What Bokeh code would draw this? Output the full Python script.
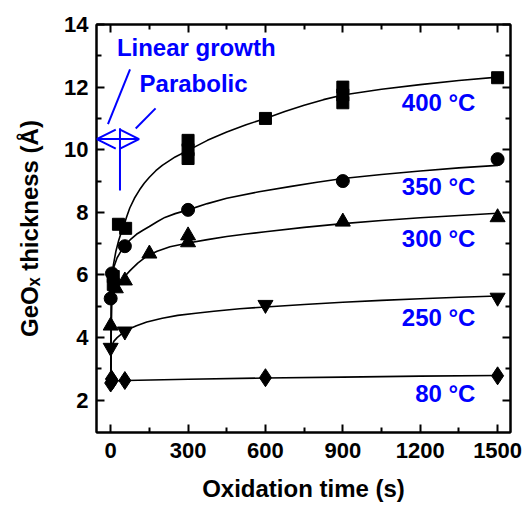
from bokeh.plotting import figure
from bokeh.models import Range1d, FixedTicker, LinearAxis, Arrow, OpenHead
from bokeh.core.properties import value
from bokeh.embed import file_html
from bokeh.resources import INLINE

# ---------------- data ----------------
x_ticks = [0, 300, 600, 900, 1200, 1500]
y_ticks = [2, 4, 6, 8, 10, 12, 14]

temps = ["400 °C", "350 °C", "300 °C", "250 °C", "80 °C"]

# measured points
t_400 = [10, 10, 30, 58, 300, 300, 300, 600, 900, 900, 900, 1500]
d_400 = [5.95, 5.7, 7.62, 7.49, 10.3, 10.0, 9.72, 11.0, 12.0, 11.75, 11.5, 12.3]
t_350 = [0, 5, 55, 300, 900, 1500]
d_350 = [5.25, 6.05, 6.92, 8.08, 9.0, 9.7]
t_300 = [0, 20, 55, 150, 300, 300, 900, 1500]
d_300 = [4.38, 5.57, 5.82, 6.68, 7.26, 7.04, 7.7, 7.84]
t_250 = [0, 55, 600, 1500]
d_250 = [3.68, 4.2, 5.05, 5.28]
t_80 = [0, 3, 6, 55, 600, 1500]
d_80 = [2.55, 2.68, 2.62, 2.63, 2.72, 2.78]

# fitted curves
ct_400 = [0, 4, 10, 20, 31, 40, 50, 62, 74, 92, 112, 130, 150, 175, 200, 250, 300,
          375, 450, 525, 600, 675, 750, 825, 900, 1050, 1200, 1350, 1500]
cy_400 = [2.62, 5.5, 6.3, 6.75, 7.1, 7.33, 7.55, 7.86, 8.14, 8.45, 8.72, 8.93, 9.12,
          9.33, 9.5, 9.77, 9.98, 10.3, 10.57, 10.8, 11.0, 11.22, 11.42, 11.6, 11.75,
          11.93, 12.08, 12.21, 12.32]
ct_350 = [0, 3, 10, 25, 40, 54, 75, 100, 125, 150, 180, 210, 250, 300, 375, 450,
          575, 700, 800, 900, 1050, 1200, 1350, 1500]
cy_350 = [2.62, 5.8, 6.2, 6.55, 6.76, 6.93, 7.12, 7.3, 7.43, 7.55, 7.7, 7.84, 7.96,
          8.08, 8.28, 8.45, 8.66, 8.83, 8.96, 9.08, 9.21, 9.32, 9.42, 9.5]
ct_300 = [0, 3, 8, 20, 35, 55, 75, 105, 140, 180, 230, 300, 375, 450, 525, 600,
          750, 900, 1050, 1200, 1350, 1500]
cy_300 = [2.62, 5.0, 5.35, 5.55, 5.75, 5.96, 6.14, 6.38, 6.6, 6.76, 6.9, 7.02, 7.13,
          7.23, 7.31, 7.38, 7.52, 7.64, 7.74, 7.83, 7.9, 7.97]
ct_250 = [0, 2, 6, 12, 25, 40, 60, 80, 100, 140, 200, 260, 330, 400, 500, 600,
          750, 900, 1050, 1200, 1350, 1500]
cy_250 = [2.62, 3.6, 3.75, 3.88, 4.0, 4.1, 4.22, 4.31, 4.38, 4.5, 4.62, 4.71, 4.78,
          4.84, 4.92, 4.98, 5.06, 5.13, 5.19, 5.24, 5.29, 5.33]
ct_80 = [0, 60, 300, 600, 900, 1200, 1500]
cy_80 = [2.62, 2.63, 2.67, 2.71, 2.74, 2.77, 2.79]

# ---------------- figure ----------------
FONT = "Liberation Sans"
BLUE = "#0000ff"

p = figure(width=526, height=506, output_backend="svg", toolbar_location=None,
           x_range=Range1d(-55, 1550), y_range=Range1d(0.97, 14),
           min_border_left=96, min_border_right=16, min_border_top=24,
           min_border_bottom=74)
p.xgrid.visible = False
p.ygrid.visible = False
p.outline_line_color = "black"
p.outline_line_width = 2
p.background_fill_color = "white"
p.border_fill_color = "white"

xt = FixedTicker(ticks=x_ticks, minor_ticks=[150, 450, 750, 1050, 1350])
yt = FixedTicker(ticks=y_ticks, minor_ticks=[3, 5, 7, 9, 11, 13])


def style(ax, labels=True):
    ax.axis_line_width = 2
    ax.axis_line_color = "black"
    ax.major_tick_in = 8
    ax.major_tick_out = 0
    ax.minor_tick_in = 5
    ax.minor_tick_out = 0
    ax.major_tick_line_width = 2
    ax.minor_tick_line_width = 2
    ax.major_tick_line_color = "black"
    ax.minor_tick_line_color = "black"
    if labels:
        ax.major_label_text_font = FONT
        ax.major_label_text_font_style = "bold"
        ax.major_label_text_font_size = "22px"
        ax.major_label_text_color = "black"
        ax.axis_label_text_font = FONT
        ax.axis_label_text_font_style = "bold"
        ax.axis_label_text_font_size = "24px"
        ax.axis_label_text_color = "black"
    else:
        ax.major_label_text_font_size = "1px"
        ax.major_label_text_color = None
        ax.major_label_standoff = 0


p.xaxis.ticker = xt
p.yaxis.ticker = yt
style(p.xaxis[0])
style(p.yaxis[0])
p.xaxis.axis_label = "Oxidation time (s)"
p.yaxis.axis_label = "GeOₓ thickness (Å)"
p.xaxis.major_label_standoff = 10
p.yaxis.major_label_standoff = 8
p.xaxis.axis_label_standoff = 14
p.yaxis.axis_label_standoff = 18

top = LinearAxis(ticker=xt)
style(top, labels=False)
right = LinearAxis(ticker=yt)
style(right, labels=False)
p.add_layout(top, "above")
p.add_layout(right, "right")

# curves
for ct, cy in [(ct_400, cy_400), (ct_350, cy_350), (ct_300, cy_300),
               (ct_250, cy_250), (ct_80, cy_80)]:
    p.line(ct, cy, line_color="black", line_width=1.6)

# markers
p.scatter(t_400, d_400, marker="square", size=12, color="black")
p.scatter(t_350, d_350, marker="circle", size=13, color="black")
p.scatter(t_300, d_300, marker="triangle", size=15, color="black")
p.scatter(t_250, d_250, marker="inverted_triangle", size=15, color="black")
p.scatter(t_80, d_80, marker="diamond", size=18, color="black")

# temperature labels
p.text(x=[1414] * 5, y=[11.5, 8.83, 7.18, 4.64, 2.2], text=temps,
       text_font=value(FONT), text_font_style="bold", text_font_size="24px",
       text_color=BLUE, text_align="right", text_baseline="middle")

# regime annotations
p.text(x=[24, 112], y=[13.28, 12.13], text=["Linear growth", "Parabolic"],
       text_font=value(FONT), text_font_style="bold", text_font_size="24px",
       text_color=BLUE, text_align="left", text_baseline="middle")
p.segment(x0=[75, 174, 36], y0=[12.57, 11.32, 10.69],
          x1=[-10.5, 97, 36], y1=[10.82, 10.68, 8.7],
          line_color=BLUE, line_width=2)
p.add_layout(Arrow(end=OpenHead(size=19, line_color=BLUE, line_width=2),
                   x_start=36, y_start=10.34, x_end=-54, y_end=10.34,
                   line_color=BLUE, line_width=2))
p.add_layout(Arrow(end=OpenHead(size=19, line_color=BLUE, line_width=2),
                   x_start=36, y_start=10.34, x_end=110, y_end=10.34,
                   line_color=BLUE, line_width=2))

open("out.html", "w").write(file_html(p, INLINE))
